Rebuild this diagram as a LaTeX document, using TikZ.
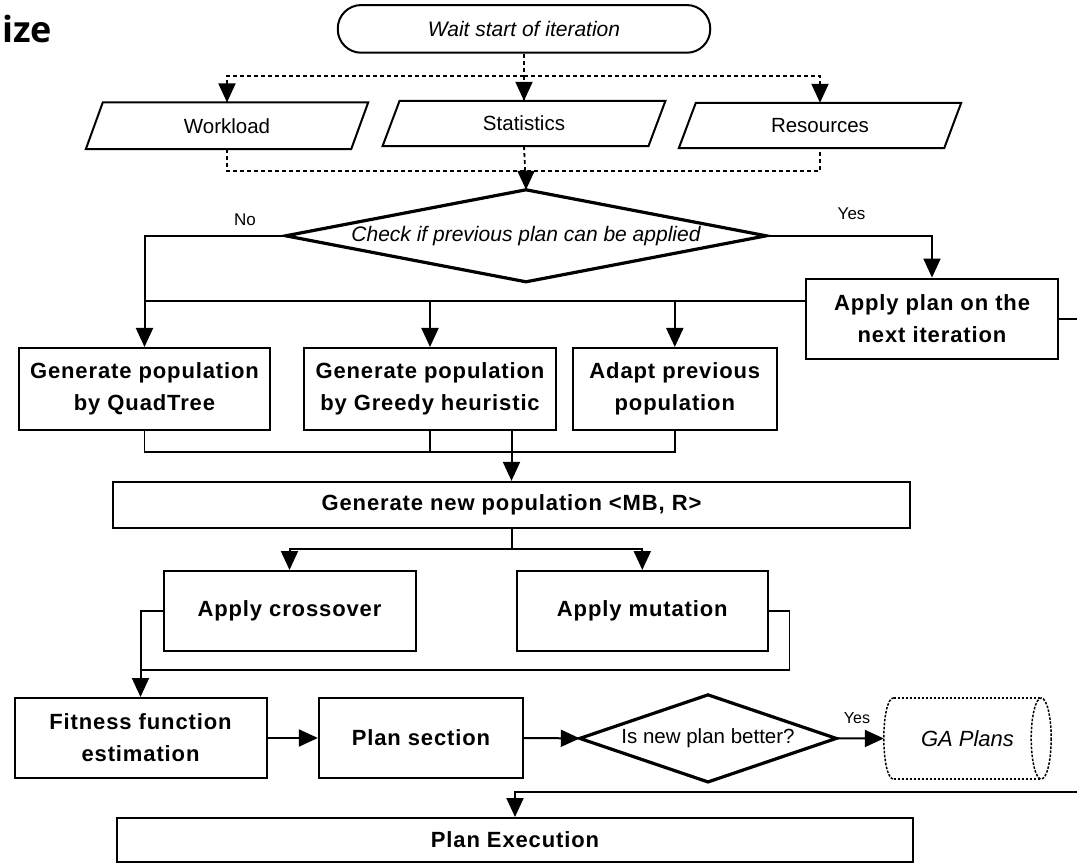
\documentclass[tikz,border=0pt]{standalone}
\usepackage{fontspec}
\setmainfont{Liberation Sans}
\newfontfamily\titlefont{Open Sans}
\newfontfamily\boxfont[LetterSpace=4.0]{Liberation Sans}
\usetikzlibrary{arrows.meta}
\begin{document}
\begin{tikzpicture}[x=1pt,y=-1pt,
  conn/.style={line width=2pt},
  thinconn/.style={line width=1.5pt},
  arr/.style={-{Triangle[length=19pt,width=17pt]}},
  dsh/.style={line width=1.8pt, dash pattern=on 4pt off 3pt},
  gadot/.style={line width=1.5pt, dash pattern=on 2.5pt off 1.5pt},
  boxn/.style={draw, line width=2pt, inner sep=0pt, align=center,
    font=\boxfont\bfseries\fontsize{22}{32}\selectfont},
  plainn/.style={inner sep=0pt, align=center, font=\fontsize{20.5}{24}\selectfont},
  itn/.style={inner sep=0pt, align=center, font=\itshape\fontsize{21}{24}\selectfont},
  lbl/.style={inner sep=0pt, font=\fontsize{17}{20}\selectfont},
  dia/.style={line width=3.2pt, line join=miter},
  para/.style={line width=2pt}
]
\useasboundingbox (0,0) rectangle (1077,866);
\clip (0,0) rectangle (1077,866);

% title fragment
\node[anchor=base west, inner sep=0pt, font=\titlefont\bfseries\fontsize{36}{40}\selectfont] (title) at (2,43) {ize};

% terminal
\node[draw, line width=2pt, rounded corners=23.5pt, minimum width=372.5pt, minimum height=47.7pt, itn] (wait) at (524,28.9) {Wait start of iteration};

% parallelograms
\node[plainn, minimum width=265pt, minimum height=46.4pt] (work) at (227,125.8) {Workload};
\node[plainn, minimum width=265.5pt, minimum height=45pt] (stat) at (524,123.5) {Statistics};
\node[plainn, minimum width=265pt, minimum height=45pt] (res) at (820,125.5) {Resources};
\foreach \n in {work,stat,res}{
  \draw[para] ([xshift=-8.5pt]\n.south west) -- ([xshift=8.5pt]\n.north west) -- ([xshift=8.5pt]\n.north east) -- ([xshift=-8.5pt]\n.south east) -- cycle;
}

% decision 1
\node[itn, minimum width=480pt, minimum height=91.6pt] (check) at (526,235.8) {Check if previous plan can be applied};
\draw[dia] (check.north) -- (check.east) -- (check.south) -- (check.west) -- cycle;

% dashed connectors
\coordinate (j1) at (524,75.8);
\coordinate (j2) at (524,171);
\draw[dsh] (wait.south) -- (j1);
\draw[dsh] (j1) -| (work.north);
\draw[dsh] (j1) -| (res.north);
\draw[dsh] (j1) -- (stat.north);
\draw[dsh] (work.south) |- (j2) -| (res.south);
\draw[dsh] (stat.south) -- (check.north);
% solid arrowheads at the ends of the dashed connectors
\draw[conn, arr] ([yshift=2pt]work.north) -- (work.north);
\draw[conn, arr] ([yshift=2pt]stat.north) -- (stat.north);
\draw[conn, arr] ([yshift=2pt]res.north) -- (res.north);
\draw[conn, arr] ([yshift=2pt]check.north) -- (check.north);

% row of generation boxes
\node[boxn, minimum width=251pt, minimum height=82pt] (box1) at (144.5,389) {Generate population\\by QuadTree};
\node[boxn, minimum width=252pt, minimum height=82pt] (box2) at (430,389) {Generate population\\by Greedy heuristic};
\node[boxn, minimum width=204.5pt, minimum height=82pt] (box3) at (674.8,389) {Adapt previous\\population};
\node[boxn, minimum width=251.4pt, minimum height=80.2pt] (apply) at (932,318.7) {Apply plan on the\\next iteration};

\node[lbl] (no) at (245,220) {No};
\node[lbl] (yes1) at (851.6,214) {Yes};

\coordinate (bus) at (0,301.5);
\draw[conn, arr] (check.west) -| (box1.north);
\draw[conn] (box1.north |- bus) -- (apply.west |- bus);
\draw[conn, arr] (box2.north |- bus) -- (box2.north);
\draw[conn, arr] (box3.north |- bus) -- (box3.north);
\draw[conn, arr] (check.east) -| (apply.north);

\coordinate (edge1) at (1077,318.7);
\draw[conn] (apply.east) -- (edge1);

% generate new population
\node[boxn, minimum width=797pt, minimum height=46.3pt] (gen) at (511.5,505) {Generate new population <MB, R>};
\coordinate (b2) at (0,452);
\draw[thinconn] (box1.south) |- (box3.south |- b2) -- (box3.south);
\draw[thinconn] (box2.south) -- (box2.south |- b2);
\draw[conn, arr] (gen.north |- box2.south) -- (gen.north);

% crossover / mutation
\node[boxn, minimum width=252pt, minimum height=80pt] (cross) at (289.5,611) {Apply crossover};
\node[boxn, minimum width=251.5pt, minimum height=80pt] (mut) at (642.3,611) {Apply mutation};
\coordinate (b3) at (0,549.3);
\draw[conn] (gen.south) -- (gen.south |- b3);
\draw[conn, arr] (gen.south |- b3) -| (cross.north);
\draw[conn, arr] (gen.south |- b3) -| (mut.north);

% fitness row
\node[boxn, minimum width=252pt, minimum height=80pt] (fit) at (140.5,738) {Fitness function\\estimation};
\node[boxn, minimum width=204.3pt, minimum height=80pt] (plan) at (421,738) {Plan section};
\node[plainn, minimum width=256pt, minimum height=86.7pt] (better) at (708,738.4) {Is new plan better?};
\draw[dia] (better.north) -- (better.east) -- (better.south) -- (better.west) -- cycle;

\coordinate (b4) at (0,670);
\draw[conn, arr] (cross.west) -| (fit.north);
\draw[thinconn] (mut.east) -- ++(20.5,0) |- (fit.north |- b4);

\draw[conn, arr] (fit.east) -- (plan.west);
\draw[conn, arr] (plan.east) -- (better.west);

% GA plans storage
\node[itn, font=\itshape\fontsize{22}{24}\selectfont, minimum width=167pt, minimum height=81pt] (ga) at (967.5,738.5) {GA Plans};
\draw[gadot] ([xshift=10pt]ga.north west) -- ([xshift=-10pt]ga.north east);
\draw[gadot] ([xshift=10pt]ga.south west) -- ([xshift=-10pt]ga.south east);
\draw[gadot] ([xshift=-10pt]ga.east) ellipse [x radius=10, y radius=40.5];
\draw[gadot] ([xshift=10pt]ga.north west) .. controls ([xshift=-3.3pt]ga.north west) and ([xshift=-3.3pt]ga.south west) .. ([xshift=10pt]ga.south west);

\draw[conn, arr] (better.east) -- (ga.west);
\node[lbl, font=\fontsize{16}{18}\selectfont] (yes2) at (857,718) {Yes};

% plan execution
\node[boxn, minimum width=796pt, minimum height=44pt] (exec) at (515,840) {Plan Execution};
\coordinate (edge2) at (1077,792);
\draw[conn, arr] (edge2) -| (exec.north);
\end{tikzpicture}
\end{document}
